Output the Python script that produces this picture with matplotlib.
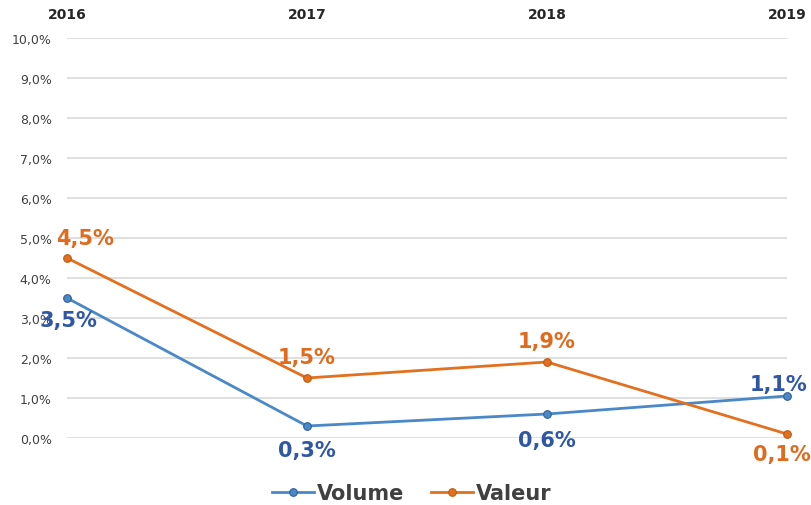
import matplotlib
matplotlib.use("Agg")
import matplotlib.pyplot as plt
from matplotlib.ticker import FuncFormatter, MultipleLocator

years = ["2016", "2017", "2018", "2019"]
volume = [3.5, 0.3, 0.6, 1.05]
valeur = [4.5, 1.5, 1.9, 0.1]
volume_labels = ["3,5%", "0,3%", "0,6%", "1,1%"]
valeur_labels = ["4,5%", "1,5%", "1,9%", "0,1%"]

blue = "#4A88C7"
blue_txt = "#2F57A6"
orange = "#E2701F"
orange_txt = "#E06B1E"

fig = plt.figure(figsize=(8.12, 5.06), dpi=100)
W, H = 812, 506
ax = fig.add_axes([67 / W, 67 / H, (787 - 67) / W, (439 - 39) / H])

x = list(range(len(years)))
ax.plot(x, volume, color=blue, lw=2.0, marker="o", ms=5.5, mfc=blue, mec="#2E5F9A", mew=0.8,
        label="Volume", zorder=3, clip_on=False)
ax.plot(x, valeur, color=orange, lw=2.0, marker="o", ms=5.5, mfc=orange, mec="#C05A10", mew=0.8,
        label="Valeur", zorder=3, clip_on=False)

ax.set_xlim(0, 3)
ax.set_ylim(0, 10)
ax.yaxis.set_major_locator(MultipleLocator(1))
ax.yaxis.set_major_formatter(FuncFormatter(lambda v, p: f"{v:.1f}%".replace(".", ",")))
ax.grid(axis="y", color="#D9D9D9", lw=1.2)
ax.set_axisbelow(True)
for s in ax.spines.values():
    s.set_visible(False)
ax.tick_params(axis="y", length=0, pad=11, labelsize=9, labelcolor="#404040")
ax.xaxis.tick_top()
ax.set_xticks(x)
ax.set_xticklabels(years)
ax.tick_params(axis="x", length=0, pad=12, labelsize=10, labelcolor="#262626")
for t in ax.get_xticklabels():
    t.set_fontweight("bold")

vol_off = [(2, -22), (0, -24), (0, -26), (-8, 12)]
val_off = [(18, 20), (0, 21), (0, 21), (-5, -20)]
for i in x:
    ax.annotate(volume_labels[i], (x[i], volume[i]), xytext=vol_off[i], textcoords="offset pixels",
                ha="center", va="center", fontsize=15, fontweight="bold", color=blue_txt,
                annotation_clip=False, zorder=4)
    ax.annotate(valeur_labels[i], (x[i], valeur[i]), xytext=val_off[i], textcoords="offset pixels",
                ha="center", va="center", fontsize=15, fontweight="bold", color=orange_txt,
                annotation_clip=False, zorder=4)

leg = fig.legend(loc="center", bbox_to_anchor=(412 / W, 1 - 494 / H), ncol=2, frameon=False,
                 prop={"size": 15, "weight": "bold"}, handlelength=2.0, handletextpad=0.15,
                 columnspacing=1.3, borderpad=0.2)
for t in leg.get_texts():
    t.set_color("#404040")

fig.savefig("out.png", dpi=100)
